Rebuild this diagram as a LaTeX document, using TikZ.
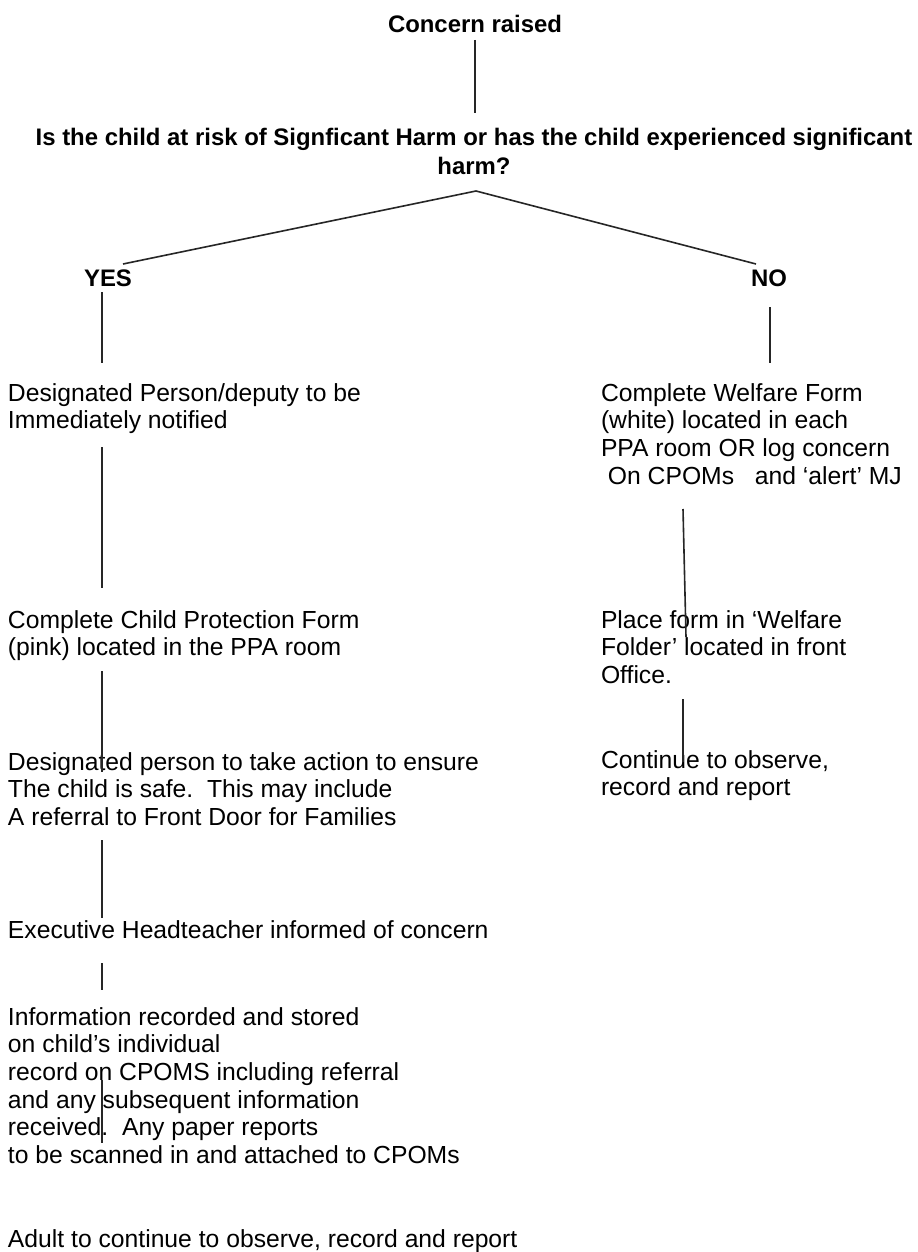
\documentclass[tikz,border=0pt]{standalone}
\usepackage{fontspec}
\setmainfont{Liberation Sans}
\begin{document}
\begin{tikzpicture}[x=0.5pt,y=-0.5pt,
  txt/.style={inner sep=0pt,outer sep=0pt,font=\fontsize{12.35}{13.8}\selectfont,align=left,anchor=north west},
  btxt/.style={inner sep=0pt,outer sep=0pt,font=\fontsize{11.95}{14.2}\selectfont\bfseries,align=center},
  conn/.style={line width=0.8pt,draw=black!85}]
\fill[white] (0,0) rectangle (917,1252);
\useasboundingbox (0,0) rectangle (917,1252);

% headings
\node[btxt,anchor=base] (concern) at (475,33) {Concern raised};
\node[btxt,anchor=north] (question) at (474,128.5) {Is the child at risk of Signficant Harm or has the child experienced significant\\harm?};
\node[btxt,anchor=base] (yes) at (108,286) {YES};
\node[btxt,anchor=base] (no) at (769,286) {NO};

% left column
\node[txt] (dp) at (8,383.4) {Designated Person/deputy to be\\Immediately notified};
\node[txt] (cpf) at (8,610.4) {Complete Child Protection Form\\(pink) located in the PPA room};
\node[txt] (act) at (8,752.4) {Designated person to take action to ensure\\The child is safe.\hspace{0.56em}This may include\\A referral to Front Door for Families};
\node[txt,anchor=base west] (exec) at (8,938) {Executive Headteacher informed of concern};
\node[txt] (info) at (8,1007.4) {Information recorded and stored\\on child’s individual\\record on CPOMS including referral\\and any subsequent information\\received.\hspace{0.56em}Any paper reports\\to be scanned in and attached to CPOMs};
\node[txt,anchor=base west] (adult) at (8,1247) {Adult to continue to observe, record and report};

% right column
\node[txt] (welf) at (601,383.4) {Complete Welfare Form\\(white) located in each\\PPA room OR log concern\\\hspace*{0.28em}On CPOMs\hspace{0.84em}and ‘alert’ MJ};
\node[txt] (place) at (601,610.4) {Place form in ‘Welfare\\Folder’ located in front\\Office.};
\node[txt] (cont) at (601,750.4) {Continue to observe,\\record and report};

% connector end points
\coordinate (c0a) at (475,40);   \coordinate (c0b) at (475,113);
\coordinate (vl) at (123,264);   \coordinate (vt) at (476,191);  \coordinate (vr) at (756,264);
\coordinate (l1a) at (102,292);  \coordinate (l1b) at (102,363);
\coordinate (l2a) at (102,447);  \coordinate (l2b) at (102,588);
\coordinate (l3a) at (102,671);  \coordinate (l3b) at (102,772);
\coordinate (l4a) at (102,840);  \coordinate (l4b) at (102,918);
\coordinate (l5a) at (102,963);  \coordinate (l5b) at (102,990);
\coordinate (l6a) at (102,1080); \coordinate (l6b) at (102,1143);
\coordinate (r1a) at (770,307);  \coordinate (r1b) at (770,363);
\coordinate (r2a) at (683,509);  \coordinate (r2b) at (686,637);
\coordinate (r3a) at (683,699);  \coordinate (r3b) at (683,762);

\draw[conn] (c0a) -- (c0b);
\draw[conn] (vl) -- (vt) -- (vr);
\draw[conn] (l1a) -- (l1b);
\draw[conn] (l2a) -- (l2b);
\draw[conn] (l3a) -- (l3b);
\draw[conn] (l4a) -- (l4b);
\draw[conn] (l5a) -- (l5b);
\draw[conn] (l6a) -- (l6b);
\draw[conn] (r1a) -- (r1b);
\draw[conn] (r2a) -- (r2b);
\draw[conn] (r3a) -- (r3b);
\end{tikzpicture}
\end{document}
